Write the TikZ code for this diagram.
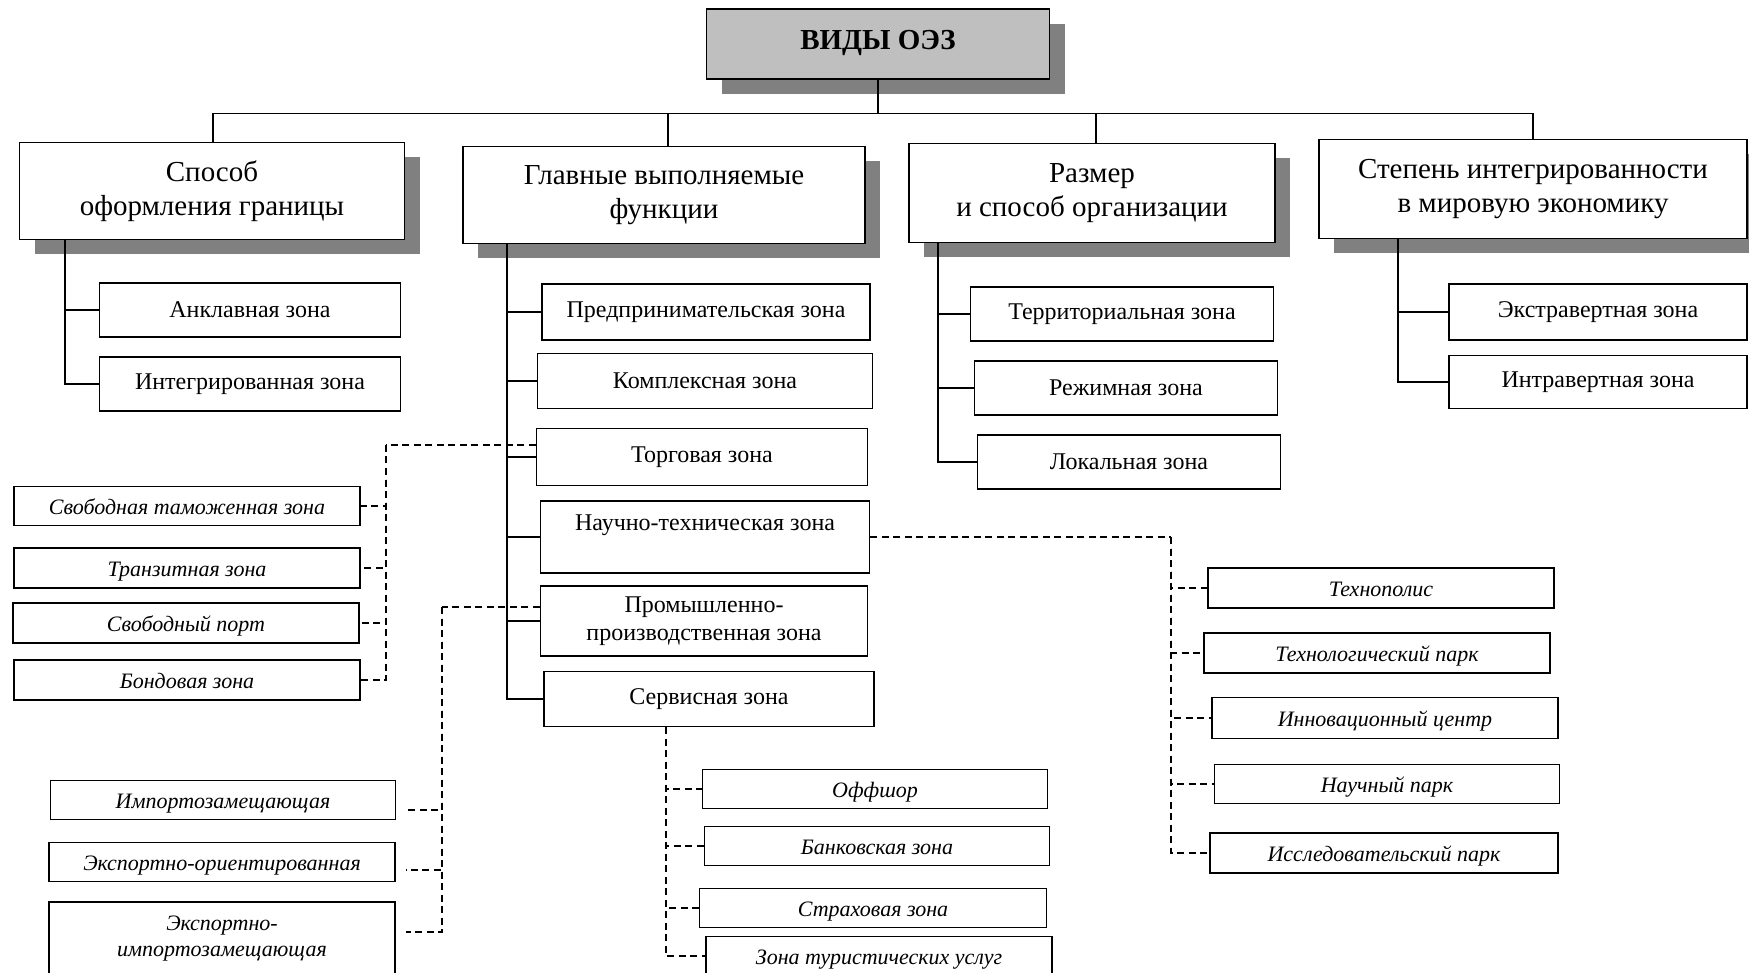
\documentclass[tikz,border=0pt]{standalone}
\usepackage{fontspec}
\setmainfont{Liberation Serif}
\usetikzlibrary{shadows}

\newcommand\kindfont{\fontsize{22}{26}\selectfont\itshape}

\tikzset{
  zone/.style={draw, fill=white, line width=1.6pt, inner sep=0pt,
    font=\fontsize{24}{28}\selectfont},
  kind/.style={zone, font=\kindfont, text height=17pt, text depth=0pt},
  group/.style={zone, align=center, font=\fontsize{29}{34}\selectfont,
    drop shadow={shadow xshift=15pt, shadow yshift=-15pt, opacity=1, fill=black!50}},
  head/.style={group, fill=black!25, text depth=9pt, font=\fontsize{29}{34}\selectfont\bfseries},
  link/.style={line width=1.4pt},
  sublink/.style={line width=1.4pt, dash pattern=on 7pt off 4.5pt},
}

\begin{document}
\begin{tikzpicture}[x=1pt, y=-1pt]
  \useasboundingbox (0,0) rectangle (1749,973);

  % top and the four groups
  \node[head, minimum width=343pt, minimum height=70pt] (oez) at (878,44) {ВИДЫ ОЭЗ};
  \node[group, minimum width=385pt, minimum height=97pt] (border) at (212,191) {Способ\\оформления границы};
  \node[group, minimum width=402pt, minimum height=97pt] (func) at (664,195) {Главные выполняемые\\функции};
  \node[group, minimum width=366pt, minimum height=99pt] (size) at (1092,193) {Размер\\и способ организации};
  \node[group, minimum width=428pt, minimum height=99pt] (integ) at (1533,189) {Степень интегрированности\\в мировую экономику};

  \foreach \g/\x in {border/213,func/668,size/1096,integ/1533}
    \draw[link] (oez.south) -- ++(0,34) -| (\x,0 |- \g.north);

  % border
  \node[zone, minimum width=301pt, minimum height=54pt] (encl) at (250,310) {Анклавная зона};
  \node[zone, minimum width=301pt, minimum height=54pt] (intz) at (250,384) {Интегрированная зона};
  \foreach \z in {encl,intz}
    \draw[link] (65,0 |- border.south) |- (\z.west);

  % functions
  \node[zone, minimum width=328pt, minimum height=56pt] (entr) at (706,312) {Предпринимательская зона};
  \node[zone, minimum width=335pt, minimum height=55pt] (compl) at (705,381) {Комплексная зона};
  \node[zone, minimum width=331pt, minimum height=57pt] (trade) at (702,457) {Торговая зона};
  \node[zone, minimum width=329pt, minimum height=72pt, text depth=29pt] (sci) at (705,537) {Научно-техническая зона};
  \node[zone, minimum width=327pt, minimum height=70pt, align=center] (ind) at (704,621) {Промышленно-\\производственная зона};
  \node[zone, minimum width=330pt, minimum height=55pt] (serv) at (709,699) {Сервисная зона};
  \foreach \z in {entr,compl,trade,sci,ind,serv}
    \draw[link] (507,0 |- func.south) |- (\z.west);

  % size
  \node[zone, minimum width=303pt, minimum height=54pt] (terr) at (1122,314) {Территориальная зона};
  \node[zone, minimum width=303pt, minimum height=54pt] (regime) at (1126,388) {Режимная зона};
  \node[zone, minimum width=303pt, minimum height=54pt] (local) at (1129,462) {Локальная зона};
  \foreach \z in {terr,regime,local}
    \draw[link] (938,0 |- size.south) |- (\z.west);

  % integration
  \node[zone, minimum width=298pt, minimum height=56pt] (extra) at (1598,312) {Экстравертная зона};
  \node[zone, minimum width=298pt, minimum height=53pt] (intra) at (1598,382) {Интравертная зона};
  \foreach \z in {extra,intra}
    \draw[link] (1398,0 |- integ.south) |- (\z.west);

  % trade kinds
  \node[kind, minimum width=346pt, minimum height=39pt] (fcz) at (187,506) {Свободная таможенная зона};
  \node[kind, minimum width=346pt, minimum height=40pt] (trans) at (187,568) {Транзитная зона};
  \node[kind, minimum width=346pt, minimum height=40pt] (port) at (186,623) {Свободный порт};
  \node[kind, minimum width=346pt, minimum height=40pt] (bond) at (187,680) {Бондовая зона};
  \coordinate (tbus) at (386,445);
  \draw[sublink] ([yshift=12pt]trade.west) -- (tbus);
  \foreach \z in {fcz,trans,port,bond}
    \draw[sublink] (tbus) |- (\z.east);

  % industrial kinds
  \node[kind, minimum width=345pt, minimum height=39pt] (imp) at (223,800) {Импортозамещающая};
  \node[kind, minimum width=346pt, minimum height=39pt] (exp) at (222,862) {Экспортно-ориентированная};
  \node[zone, font=\kindfont, minimum width=346pt, minimum height=74pt, align=center] (expimp) at (222,939) {Экспортно-\\импортозамещающая};
  \coordinate (ibus) at (442,607);
  \draw[sublink] ([yshift=14pt]ind.west) -- (ibus);
  \foreach \z/\d in {imp/-10,exp/-8,expimp/7}
    \draw[sublink] (ibus) |- ([xshift=10pt,yshift=\d pt]\z.east);

  % service kinds
  \node[kind, minimum width=345pt, minimum height=39pt] (off) at (875,789) {Оффшор};
  \node[kind, minimum width=345pt, minimum height=39pt] (bank) at (877,846) {Банковская зона};
  \node[kind, minimum width=347pt, minimum height=39pt] (insur) at (873,908) {Страховая зона};
  \node[kind, minimum width=346pt, minimum height=39pt] (tour) at (879,956) {Зона туристических услуг};
  \coordinate (sbus) at (666,733);
  \foreach \z in {off,bank,insur,tour}
    \draw[sublink] (serv.south -| sbus) |- (\z.west);

  % science kinds
  \node[kind, minimum width=346pt, minimum height=40pt] (polis) at (1381,588) {Технополис};
  \node[kind, minimum width=346pt, minimum height=40pt] (tpark) at (1377,653) {Технологический парк};
  \node[kind, minimum width=346pt, minimum height=41pt] (innov) at (1385,718) {Инновационный центр};
  \node[kind, minimum width=345pt, minimum height=39pt] (spark) at (1387,784) {Научный парк};
  \node[kind, minimum width=348pt, minimum height=40pt] (rpark) at (1384,853) {Исследовательский парк};
  \coordinate (nbus) at (1171,537);
  \draw[sublink] (sci.east) -- (nbus);
  \foreach \z in {polis,tpark,innov,spark,rpark}
    \draw[sublink] (nbus) |- (\z.west);
\end{tikzpicture}
\end{document}
